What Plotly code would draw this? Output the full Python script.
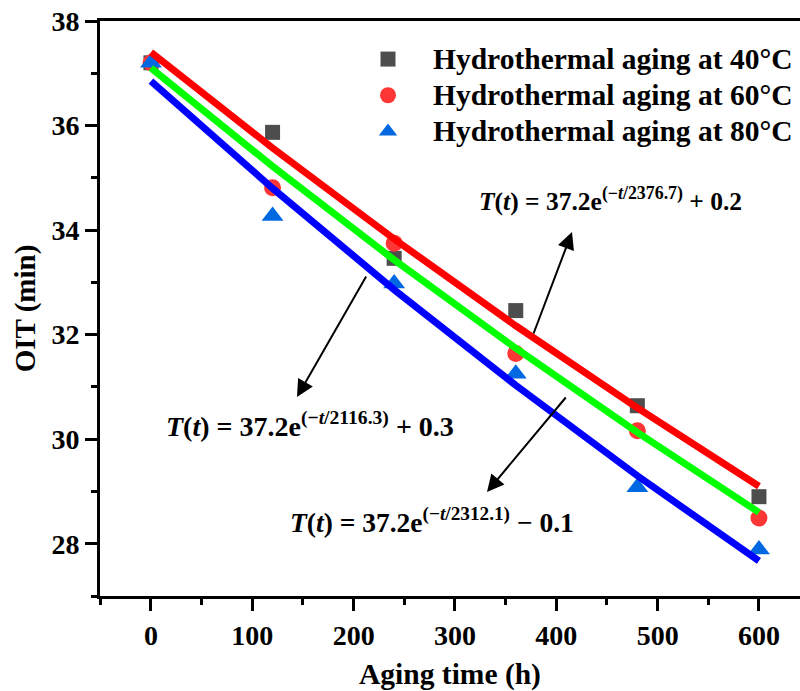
import plotly.graph_objects as go

# ---- data ----
aging_time = [0, 120, 240, 360, 480, 600]
oit_40 = [37.20, 35.87, 33.46, 32.46, 30.64, 28.90]
oit_60 = [37.20, 34.81, 33.75, 31.64, 30.16, 28.49]
oit_80 = [37.20, 34.27, 32.98, 31.25, 29.08, 27.89]

fit_time = [0, 120, 240, 360, 480, 600]
fit_40 = [37.40, 35.57, 33.83, 32.17, 30.60, 29.10]
fit_60 = [37.10, 35.22, 33.43, 31.74, 30.13, 28.60]
fit_80 = [36.85, 34.80, 32.86, 31.03, 29.30, 27.67]

series_names = ["Hydrothermal aging at 40\u00b0C",
                "Hydrothermal aging at 60\u00b0C",
                "Hydrothermal aging at 80\u00b0C"]
x_ticks = [0, 100, 200, 300, 400, 500, 600]
y_ticks = [28, 30, 32, 34, 36, 38]

eq_40 = "<i>T</i>(<i>t</i>) = 37.2e<sup>(\u2212<i>t</i>/2376.7)</sup> + 0.2"
eq_80 = "<i>T</i>(<i>t</i>) = 37.2e<sup>(\u2212<i>t</i>/2116.3)</sup> + 0.3"
eq_60 = "<i>T</i>(<i>t</i>) = 37.2e<sup>(\u2212<i>t</i>/2312.1)</sup> \u2212 0.1"

# ---- figure geometry (pixels) ----
W, H = 800, 691
L, R, T, B = 100, 800, 21, 596

def px(x):
    return (x - L) / (R - L)

def py(y):
    return (B - y) / (B - T)

FONT = "Liberation Serif"

fig = go.Figure()

marker_styles = [
    dict(symbol="square", size=15, color="#4d4d4d"),
    dict(symbol="circle", size=17, color="#ff3636"),
    dict(symbol="triangle-up", size=19, color="#0068e0"),
]
for name, ys, ms in zip(series_names, [oit_40, oit_60, oit_80], marker_styles):
    fig.add_trace(go.Scatter(x=aging_time, y=ys, mode="markers",
                             name=f"<span style='font-size:29.5px'>{name}</span>",
                             marker=dict(symbol=ms["symbol"], size=ms["size"],
                                         color=ms["color"], line=dict(width=0))))

for ys, col in zip([fit_40, fit_60, fit_80], ["#ff0000", "#00ff00", "#0000ff"]):
    fig.add_trace(go.Scatter(x=fit_time, y=ys, mode="lines", showlegend=False,
                             line=dict(color=col, width=7), hoverinfo="skip"))

fig.update_layout(
    width=W, height=H,
    margin=dict(l=L, r=W - R, t=T, b=H - B, pad=0, autoexpand=False),
    paper_bgcolor="white", plot_bgcolor="white",
    font=dict(family=FONT, color="black", size=27, weight="bold"),
    showlegend=True,
    legend=dict(x=px(343), y=py(36), xanchor="left", yanchor="top",
                bgcolor="rgba(0,0,0,0)", borderwidth=0,
                font=dict(family=FONT, size=25.5, weight="bold", color="black"),
                itemwidth=80, tracegroupgap=0),
)

fig.update_xaxes(
    range=[-50.3, 640.5], showgrid=False, zeroline=False, automargin=False,
    showline=True, linecolor="black", linewidth=3, mirror=True,
    ticks="outside", ticklen=12, tickwidth=3, tickcolor="black",
    tickvals=x_ticks, ticktext=[str(v) for v in x_ticks],
    tickfont=dict(family=FONT, size=28, weight="bold"),
    minor=dict(dtick=50, tick0=-50, ticks="outside", ticklen=6, tickwidth=3, tickcolor="black"),
    title=dict(text="Aging time (h)", standoff=23,
               font=dict(family=FONT, size=29.5, weight="bold")),
)
fig.update_yaxes(
    range=[27, 38], showgrid=False, zeroline=False, automargin=False,
    showline=True, linecolor="black", linewidth=3, mirror=False,
    ticks="outside", ticklen=12, tickwidth=3, tickcolor="black",
    tickvals=y_ticks, ticktext=[str(v) for v in y_ticks],
    tickfont=dict(family=FONT, size=28, weight="bold"),
    minor=dict(dtick=1, tick0=27, ticks="outside", ticklen=6, tickwidth=3, tickcolor="black"),
    title=dict(text="OIT (min)", standoff=8,
               font=dict(family=FONT, size=29, weight="bold")),
)

# equations
for text, (x0, yc), size in [(eq_40, (477, 199), 25.5), (eq_80, (164, 424), 28), (eq_60, (288, 520), 27.5)]:
    fig.add_annotation(xref="paper", yref="paper", x=px(x0), y=py(yc),
                       xanchor="left", yanchor="middle", text=text, showarrow=False,
                       font=dict(family=FONT, size=size, weight="bold", color="black"))

# arrows: (tip, tail)
for (tx, ty), (sx, sy) in [((572, 232), (533, 335)), ((297, 397), (367, 275)), ((487, 492), (567, 396))]:
    fig.add_annotation(xref="paper", yref="paper", x=px(tx), y=py(ty),
                       ax=sx - tx, ay=sy - ty, axref="pixel", ayref="pixel",
                       text="", showarrow=True, arrowhead=2, arrowsize=1.7,
                       arrowwidth=2, arrowcolor="black", standoff=0)

fig.write_html("out.html")
